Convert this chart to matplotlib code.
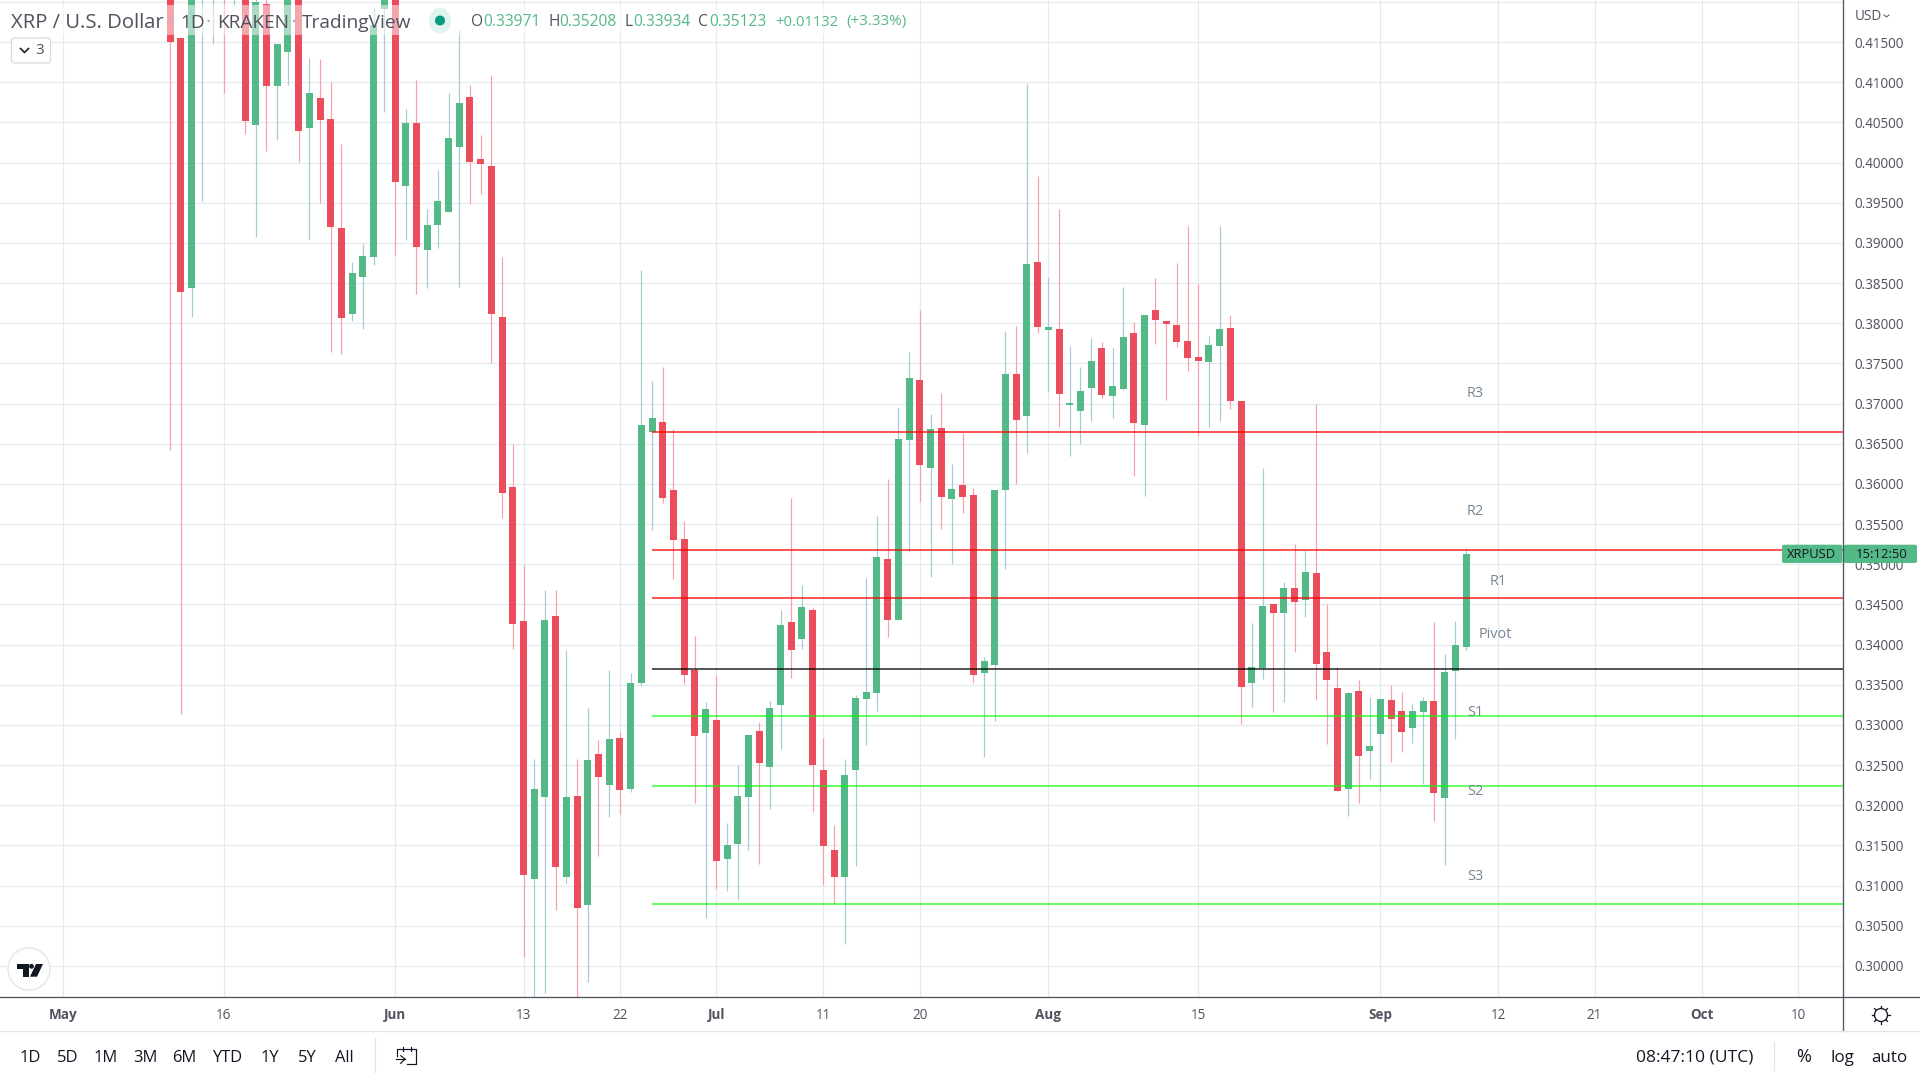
import matplotlib
matplotlib.use("Agg")
import matplotlib.pyplot as plt
import matplotlib.patches as patches

plt.rcParams['font.family'] = ['Open Sans', 'DejaVu Sans']

# days are counted from May 1st
first_day = 10

opens = [.4235,.41550,.38438,.4225,.4215,.4230,.4225,.4240,.40467,.41973,
         .40953,.41376,.4235,.40430,.40803,.40542,.39185,.38115,.38575,.38824,
         .41911,.4240,.39708,.40492,.38911,.39222,.39384,.40193,.40816,.40044,
         .39957,.38077,.35961,.34294,.31083,.32103,.34356,.31107,.32116,.30759,
         .32638,.32253,.32838,.32203,.33522,.36646,.36770,.35924,.35314,.33684,
         .32900,.33062,.31331,.31518,.32103,.32925,.32477,.33248,.34281,.34070,
         .34431,.32439,.31444,.31107,.32439,.33323,.33398,.35066,.34306,.36546,
         .37293,.36198,.36696,.35812,.35986,.35862,.33647,.33746,.35924,.37368,
         .36845,.38762,.37915,.37928,.36982,.36907,.37193,.37691,.37094,.37181,
         .37878,.36733,.38164,.38027,.37978,.37778,.37579,.37517,.37716,.37940,
         .37032,.33522,.33708,.34505,.34393,.34704,.34555,.34891,.33907,.33459,
         .32202,.33422,.32675,.32887,.33310,.33173,.32961,.33161,.33297,.32090,.33671,.33971]
closes = [.41500,.38388,.4250,.4235,.4228,.4215,.4232,.40517,.41998,.40953,
          .41475,.4225,.40392,.40865,.40529,.39198,.38065,.38625,.38837,.41712,
          .4210,.39758,.40492,.38949,.39222,.39521,.40305,.40741,.40007,.39982,
          .38115,.35887,.34261,.31132,.32203,.34306,.31232,.32103,.30722,.32564,
          .32352,.32825,.32190,.33522,.36733,.36820,.35824,.35301,.33622,.32863,
          .33199,.31307,.31506,.32116,.32875,.32526,.33211,.34244,.33933,.34468,
          .32502,.31493,.31107,.32377,.33336,.33410,.35091,.34306,.36559,.37318,
          .36235,.36683,.35837,.35936,.35837,.33622,.33796,.35924,.37368,.36795,
          .38737,.37953,.37953,.37119,.37007,.37156,.37529,.37106,.37218,.37828,
          .36758,.38102,.38040,.37990,.37766,.37567,.37529,.37729,.37928,.37032,
          .33476,.33721,.34480,.34393,.34704,.34530,.34903,.33758,.33559,.32177,
          .33397,.32613,.32737,.33322,.33073,.32912,.33173,.33297,.32152,.33658,.33994,.35123]
highs = [.4240,.41550,.4260,.4245,.4240,.4245,.4245,.4250,.4215,.4205,
         .41475,.4235,.4245,.41301,.41289,.41002,.40231,.38762,.38986,.41940,
         .4225,.4250,.40666,.41027,.39422,.39907,.40865,.41662,.40965,.40343,
         .41089,.38824,.36497,.34991,.32576,.34680,.34680,.33933,.32576,.33211,
         .32813,.33684,.32912,.33647,.38662,.37280,.37455,.36683,.35539,.34107,
         .33286,.33622,.31780,.32502,.32875,.33037,.33298,.34431,.35824,.34742,
         .34468,.32838,.31755,.32576,.33373,.34829,.35601,.36061,.36957,.37641,
         .38164,.36870,.37131,.36247,.36633,.35949,.33846,.35924,.37903,.37965,
         .40977,.39832,.38575,.39421,.37716,.37455,.37816,.37766,.37691,.38451,
         .38015,.38102,.38563,.38027,.38749,.39210,.38488,.37841,.39210,.38102,
         .37032,.34268,.36198,.34505,.34779,.35252,.35177,.36994,.34505,.33721,
         .33409,.33559,.33347,.33322,.33497,.33409,.33260,.33347,.34281,.33882,.34293,.35208]
lows = [.36422,.33136,.38077,.39521,.41475,.40865,.41961,.40355,.39073,.40144,
        .40280,.40965,.40007,.39036,.39496,.37642,.37617,.38027,.37928,.38725,
        .40633,.38849,.39036,.38364,.38438,.38936,.39384,.38451,.39484,.39608,
        .37505,.35576,.33950,.30116,.2950,.29659,.30697,.31037,.2950,.29805,
        .31369,.31854,.31892,.32165,.33485,.35426,.35762,.34817,.33510,.32029,
        .30597,.30958,.30933,.30821,.31444,.31269,.31954,.32701,.33584,.33945,
        .31917,.31008,.30771,.30274,.31244,.32750,.33174,.34095,.34306,.35152,
        .35774,.34842,.35438,.35003,.35638,.33522,.32601,.33049,.34941,.35998,
        .36384,.37878,.37144,.36708,.36347,.36496,.36783,.37069,.36820,.37168,
        .36098,.35849,.37741,.37044,.37704,.37405,.36596,.36708,.36783,.36932,
        .33011,.33223,.33571,.33161,.33285,.33907,.34343,.33310,.32762,.32177,
        .31866,.32028,.32327,.32177,.32538,.32663,.32775,.32264,.31804,.31256,.32824,.33934]

level_names = ['R3', 'R2', 'R1', 'Pivot', 'S1', 'S2', 'S3']
level_prices = [.36646, .35177, .34580, .33696, .33111, .32240, .30771]
level_colors = [(1, 0, 0, .66), (1, 0, 0, .66), (1, 0, 0, .66), (0, 0, 0, .66),
                (0, 1, 0, .6), (0, 1, 0, .6), (0, 1, 0, .6)]
level_start = 55
# where the level names sit
name_days = [131.9, 131.9, 134.0, 133.7, 131.9, 131.9, 131.9]
name_prices = [.37130, .35660, .34785, .34130, .33155, .32175, .31115]

x_tick_days = [0, 15, 31, 43, 52, 61, 71, 80, 92, 106, 123, 134, 143, 153, 162]
x_tick_labels = ['May', '16', 'Jun', '13', '22', 'Jul', '11', '20', 'Aug', '15', 'Sep', '12', '21', 'Oct', '10']
month_labels = ['May', 'Jun', 'Jul', 'Aug', 'Sep', 'Oct']
y_ticks = [.300, .305, .310, .315, .320, .325, .330, .335, .340, .345, .350, .355,
           .360, .365, .370, .375, .380, .385, .390, .395, .400, .405, .410, .415, .420]

range_buttons = ['1D', '5D', '1M', '3M', '6M', 'YTD', '1Y', '5Y', 'All']
range_button_x = [30, 68, 106, 145, 184, 227, 270, 307, 344]

GREEN = '#53b987'
RED = '#eb4d5c'
GREEN_WICK = '#a5cdcf'
RED_WICK = '#f7a0ac'
GRID = '#e3ebf1'
AXIS = '#50535e'
TEXT = '#131722'
LEGEND = '#50535e'
SLATE = '#758696'


def px(n):
    # pixels to font points / line widths at dpi 100
    return n * 0.72


fig = plt.figure(figsize=(19.2, 10.8), dpi=100, facecolor='white')
ax = fig.add_axes([0, 1 - 997 / 1080, 1843 / 1920, 997 / 1080])
ax.set_xlim(-5.882, 166.2)
ax.set_ylim(.29614, .42023)

# --- grid and axes ---
ax.set_axisbelow(True)
ax.grid(True, color=GRID, linewidth=px(1.2))
ax.set_xticks(x_tick_days)
ax.set_xticklabels(x_tick_labels)
ax.set_yticks(y_ticks)
ax.set_yticklabels(['%.5f' % v if v < .42 else '' for v in y_ticks])
ax.yaxis.tick_right()
ax.tick_params(axis='y', length=0, pad=8.5, labelsize=px(13.5), labelcolor=AXIS)
ax.tick_params(axis='x', length=0, pad=8, labelsize=px(13.5), labelcolor=AXIS)
for label in ax.get_xticklabels():
    if label.get_text() in month_labels:
        label.set_fontweight('bold')
for name in ['left', 'top', 'right', 'bottom']:
    ax.spines[name].set_visible(False)

# --- candles ---
days = [first_day + i for i in range(len(opens))]
for day, o, h, l, c in zip(days, opens, highs, lows, closes):
    up = c >= o
    ax.vlines(day, l, h, color=GREEN_WICK if up else RED_WICK, linewidth=px(1.2), zorder=2)
    ax.bar(day, abs(c - o), bottom=min(o, c), width=7 / 10.71, color=GREEN if up else RED,
           linewidth=0, zorder=3)

# --- pivot levels ---
for price, color in zip(level_prices, level_colors):
    ax.plot([level_start, 166.2], [price, price], color=color, linewidth=px(2), zorder=4,
            solid_capstyle='butt')
for name, day, price in zip(level_names, name_days, name_prices):
    ax.text(day, price, name, ha='center', va='center', fontsize=px(14.5), color=SLATE, zorder=5)

# --- chart chrome, drawn in pixels ---
ui = fig.add_axes([0, 0, 1, 1], zorder=5)
ui.set_xlim(0, 1920)
ui.set_ylim(1080, 0)
ui.axis('off')

ui.plot([0, 1920], [997, 997], color=AXIS, linewidth=px(1.3))
ui.plot([1843, 1843], [0, 1031], color=AXIS, linewidth=px(1.3))
ui.plot([0, 1920], [1031, 1031], color='#e0e3eb', linewidth=px(1.3))

# legend background
ui.add_patch(patches.Rectangle((0, 5), 912, 30, facecolor='white', alpha=.5, linewidth=0))
title_parts = [('XRP / U.S. Dollar', 11, 20.3), ('1D', 180, 19), ('KRAKEN', 217, 19), ('TradingView', 302, 19.2)]
for text, x, size in title_parts:
    ui.text(x, 22.5, text, ha='left', va='center', fontsize=px(size), color=LEGEND)
for x in [170.6, 208.6, 294]:
    ui.add_patch(patches.Circle((x, 21), 1.3, facecolor='#b2b5be', linewidth=0))
ui.add_patch(patches.Ellipse((440, 20.5), 22, 26, facecolor='#dff3ef', linewidth=0))
ui.add_patch(patches.Circle((440, 20.5), 5, facecolor='#089981', linewidth=0))

legend_values = [('O', 471, '0.33971', 483), ('H', 548, '0.35208', 559),
                 ('L', 625, '0.33934', 633), ('C', 698, '0.35123', 709)]
for letter, lx, value, vx in legend_values:
    ui.text(lx, 22, letter, ha='left', va='center', fontsize=px(15.5), color=LEGEND)
    ui.text(vx, 22, value, ha='left', va='center', fontsize=px(15.5), color=GREEN)
ui.text(775, 22, '+0.01132', ha='left', va='center', fontsize=px(14.8), color=GREEN)
ui.text(846, 22, '(+3.33%)', ha='left', va='center', fontsize=px(15.2), color=GREEN)

# collapsed indicators button
ui.add_patch(patches.FancyBboxPatch((11.5, 38), 39, 25, boxstyle='round,pad=0,rounding_size=3',
                                    facecolor='white', edgecolor='#d6d8e0', linewidth=px(1.2)))
ui.plot([20.5, 24.5, 28.5], [48.5, 52.5, 48.5], color=TEXT, linewidth=px(1.6))
ui.text(40, 51, '3', ha='center', va='center', fontsize=px(15), color=LEGEND)

# logo
ui.add_patch(patches.Circle((29, 969), 21, facecolor='white', edgecolor='#e6e7ea', linewidth=px(1.5)))
ui.add_patch(patches.Polygon([(16.7, 964), (29.3, 964), (29.3, 976.7), (22.7, 976.7), (22.7, 969.3), (16.7, 969.3)],
                             facecolor=TEXT, linewidth=0))
ui.add_patch(patches.Circle((31.5, 966.3), 2.4, facecolor=TEXT, linewidth=0))
ui.add_patch(patches.Polygon([(36, 964), (43, 964), (37, 976.7), (30, 976.7)], facecolor=TEXT, linewidth=0))

# currency menu
ui.text(1855, 16.5, 'USD', ha='left', va='center', fontsize=px(13.5), color=AXIS)
ui.plot([1884, 1886.5, 1889], [15, 17, 15], color=AXIS, linewidth=px(1))

# price label
ui.add_patch(patches.FancyBboxPatch((1782, 544.7), 60.5, 18.3, boxstyle='round,pad=0,rounding_size=2',
                                    facecolor=GREEN, linewidth=0))
ui.add_patch(patches.FancyBboxPatch((1843.6, 544.7), 73.4, 18.3, boxstyle='round,pad=0,rounding_size=2',
                                    facecolor=GREEN, linewidth=0))
ui.text(1812, 554, 'XRPUSD', ha='center', va='center', fontsize=px(13), color=TEXT)
ui.text(1882, 554, '15:12:50', ha='center', va='center', fontsize=px(13), color=TEXT)

# settings gear
ui.add_patch(patches.Circle((1881, 1015), 6.5, facecolor='white', edgecolor=TEXT, linewidth=px(1.3)))
for dx, dy in [(0, -9), (0, 9), (-9, 0), (9, 0), (-6.4, -6.4), (6.4, -6.4), (-6.4, 6.4), (6.4, 6.4)]:
    ui.plot([1881 + dx * .8, 1881 + dx], [1015 + dy * .8, 1015 + dy], color=TEXT, linewidth=px(1.3))

# bottom toolbar
for text, x in zip(range_buttons, range_button_x):
    ui.text(x, 1057.5, text, ha='center', va='center', fontsize=px(16.5), color=TEXT)
ui.plot([375, 375], [1038, 1072], color='#e0e3eb', linewidth=px(1.2))
ui.plot([1774, 1774], [1042, 1070], color='#e0e3eb', linewidth=px(1.2))

# date range icon
ui.plot([397.3, 397.3, 416, 416, 406.7], [1056, 1049, 1049, 1064.3, 1064.3], color=TEXT, linewidth=px(1.2))
for x in [403.3, 410.7]:
    ui.plot([x, x], [1047, 1050.5], color=TEXT, linewidth=px(1.2))
ui.plot([396, 405], [1059, 1059], color=TEXT, linewidth=px(1.2))
ui.plot([400.7, 405, 400.7], [1055.7, 1059, 1063.3], color=TEXT, linewidth=px(1.2))

ui.text(1695, 1057.5, '08:47:10 (UTC)', ha='center', va='center', fontsize=px(17.5), color=TEXT)
ui.text(1804, 1057.5, '%', ha='center', va='center', fontsize=px(18), color=TEXT)
ui.text(1842, 1057.5, 'log', ha='center', va='center', fontsize=px(17), color=TEXT)
ui.text(1889, 1057.5, 'auto', ha='center', va='center', fontsize=px(17), color=TEXT)

fig.savefig('out.png', dpi=100)
